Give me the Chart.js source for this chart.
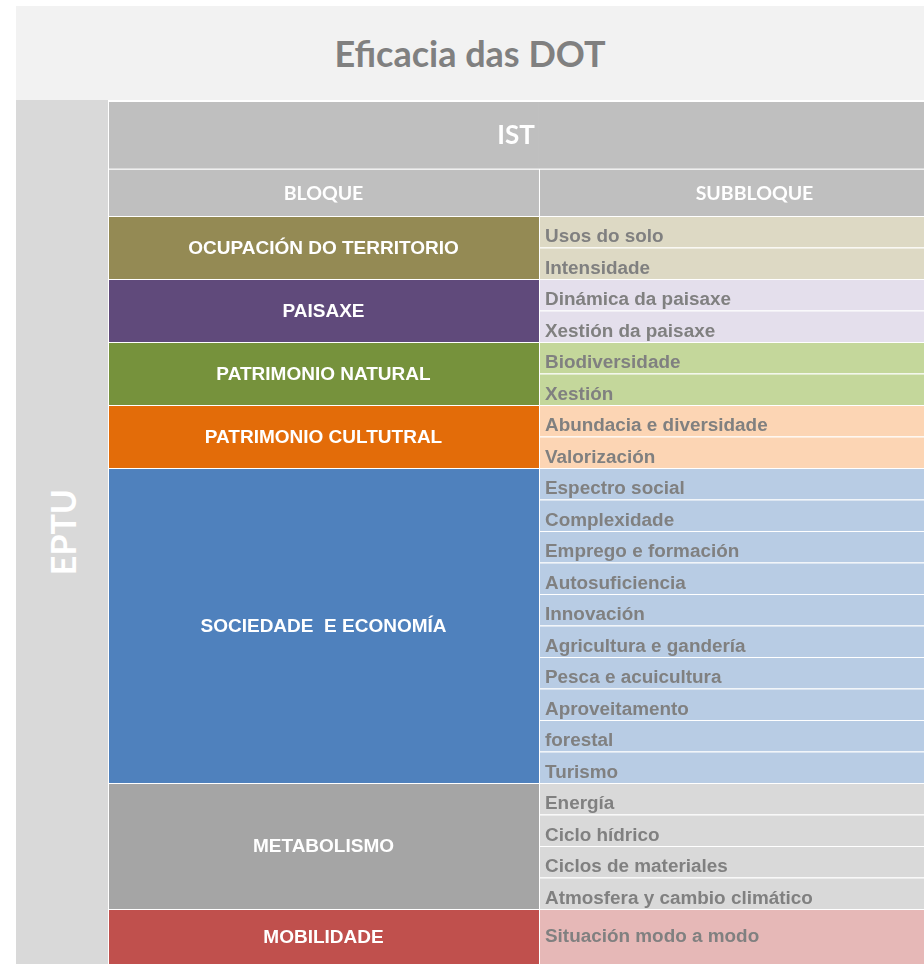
<!DOCTYPE html>
<html>
<head>
<meta charset="utf-8">
<title>Eficacia das DOT</title>
<script src="https://cdn.jsdelivr.net/npm/chart.js@4.4.1/dist/chart.umd.min.js"></script>
<style>
  body { margin: 0; background: #fff; width: 924px; height: 964px; overflow: hidden; position: relative; }
  #title {
    position: absolute; left: 16px; top: 6px; width: 908px; height: 94px;
    background: #f2f2f2; color: #808080; font: bold 36px Lato, sans-serif;
    display: flex; align-items: center; justify-content: center;
  }
  #side { position: absolute; left: 16px; top: 100px; width: 92px; height: 864px; background: #d9d9d9; }
  #side span {
    position: absolute; left: 50%; top: 50%; color: #fff; font: bold 34px Lato, sans-serif;
    transform: translate(-50%, -50%) rotate(-90deg); white-space: nowrap;
  }
  #wrap { position: absolute; left: 108px; top: 101px; width: 816px; height: 863px; }
</style>
</head>
<body>
<div id="title">Eficacia das DOT</div>
<div id="side"><span>EPTU</span></div>
<div id="wrap"><canvas id="taboa" width="816" height="863"></canvas></div>

<script>
// datos da taboa
const cabeceira = 'IST';
const columnas = ['BLOQUE', 'SUBBLOQUE'];
const bloques = [
  'OCUPACIÓN DO TERRITORIO',
  'PAISAXE',
  'PATRIMONIO NATURAL',
  'PATRIMONIO CULTUTRAL',
  'SOCIEDADE  E ECONOMÍA',
  'METABOLISMO',
  'MOBILIDADE'
];
const subbloques = [
  ['Usos do solo', 'Intensidade'],
  ['Dinámica da paisaxe', 'Xestión da paisaxe'],
  ['Biodiversidade', 'Xestión'],
  ['Abundacia e diversidade', 'Valorización'],
  ['Espectro social', 'Complexidade', 'Emprego e formación', 'Autosuficiencia', 'Innovación',
   'Agricultura e gandería', 'Pesca e acuicultura', 'Aproveitamento', 'forestal', 'Turismo'],
  ['Energía', 'Ciclo hídrico', 'Ciclos de materiales', 'Atmosfera y cambio climático'],
  ['Situación modo a modo']
];

// cores
const coresBloque = ['#948a54', '#604a7b', '#76923c', '#e36c09', '#4f81bd', '#a5a5a5', '#c0504d'];
const coresSub = ['#ddd9c4', '#e4dfec', '#c4d79b', '#fcd5b4', '#b8cce4', '#d9d9d9', '#e6b8b7'];
const corCabeceira = '#bfbfbf';

// altura das filas (en filas) e cabeceiras
const altoUltimaFila = 1.75;
const filaIST = [-3.65, -1.5];
const filaColumnas = [-1.5, 0];

// build floating bars from the row counts
const bloqueData = [];
const subData = [];
const subCores = [];
const subEtiquetas = [];
let fila = 0;
bloques.forEach((b, i) => {
  const inicio = fila;
  subbloques[i].forEach((s) => {
    const alto = i === bloques.length - 1 ? altoUltimaFila : 1;
    subData.push({ x: 1, y: [fila, fila + alto] });
    subCores.push(coresSub[i]);
    subEtiquetas.push(s);
    fila += alto;
  });
  bloqueData.push({ x: 0, y: [inicio, fila] });
});

const borde = { top: 1, left: 1, right: 0, bottom: 0 };

// draws the cell texts on top of the bars
const etiquetas = {
  id: 'etiquetas',
  afterDatasetsDraw(chart) {
    const ctx = chart.ctx;
    const area = chart.chartArea;
    chart.data.datasets.forEach((ds, di) => {
      if (!ds.textos) return;
      const meta = chart.getDatasetMeta(di);
      ctx.save();
      ctx.font = ds.fonte;
      ctx.fillStyle = ds.corTexto;
      meta.data.forEach((el, i) => {
        const texto = ds.textos[i];
        if (!texto) return;
        const p = el.getProps(['x', 'y', 'base', 'width'], true);
        const top = Math.min(p.y, p.base);
        const bottom = Math.max(p.y, p.base);
        const mid = (top + bottom) / 2;
        if (ds.abarca) {
          ctx.textAlign = 'center';
          ctx.textBaseline = 'middle';
          ctx.fillText(texto, (area.left + area.right) / 2, mid + 1);
        } else if (ds.aliñar === 'left') {
          const x = p.x - p.width / 2 + 6;
          const y = bottom - top > 40 ? mid + 6 : bottom - 5;
          ctx.textAlign = 'left';
          ctx.textBaseline = 'alphabetic';
          ctx.save();
          ctx.translate(x, y);
          ctx.scale(1.08, 1);
          ctx.fillText(texto, 0, 0);
          ctx.restore();
        } else {
          ctx.textAlign = 'center';
          ctx.textBaseline = 'middle';
          ctx.fillText(texto, p.x, mid + 1);
        }
      });
      ctx.restore();
    });
  }
};

new Chart(document.getElementById('taboa'), {
  type: 'bar',
  data: {
    datasets: [
      {
        data: [{ x: 0, y: filaIST }, { x: 1, y: filaIST }],
        backgroundColor: corCabeceira,
        borderColor: '#ffffff',
        borderWidth: (c) => ({ top: 1, left: c.dataIndex === 0 ? 1 : 0, right: 0, bottom: 0 }),
        textos: [cabeceira],
        abarca: true,
        fonte: 'bold 26px Lato, sans-serif',
        corTexto: '#ffffff'
      },
      {
        data: [{ x: 0, y: filaColumnas }, { x: 1, y: filaColumnas }],
        backgroundColor: corCabeceira,
        borderColor: '#ffffff',
        borderWidth: borde,
        textos: columnas,
        fonte: 'bold 19.5px Lato, sans-serif',
        corTexto: '#ffffff'
      },
      {
        data: bloqueData,
        backgroundColor: coresBloque,
        borderColor: '#ffffff',
        borderWidth: borde,
        textos: bloques,
        fonte: 'bold 19px "Liberation Sans", Arial, sans-serif',
        corTexto: '#ffffff'
      },
      {
        data: subData,
        backgroundColor: subCores,
        borderColor: '#ffffff',
        borderWidth: borde,
        textos: subEtiquetas,
        aliñar: 'left',
        fonte: 'bold 17.5px "Liberation Sans", Arial, sans-serif',
        corTexto: '#808080'
      }
    ]
  },
  options: {
    responsive: false,
    animation: false,
    events: [],
    layout: { padding: 0 },
    datasets: {
      bar: {
        grouped: false,
        barPercentage: 1,
        categoryPercentage: 1,
        borderSkipped: false,
        inflateAmount: 0
      }
    },
    scales: {
      x: {
        type: 'linear',
        display: false,
        offset: false,
        min: -0.5,
        max: 1.3933,
        afterBuildTicks: (axis) => { axis.ticks = [{ value: 0 }, { value: 1 }]; }
      },
      y: {
        type: 'linear',
        display: false,
        offset: false,
        reverse: true,
        min: -3.65,
        max: 23.75
      }
    },
    plugins: {
      legend: { display: false },
      tooltip: { enabled: false }
    }
  },
  plugins: [etiquetas]
});
</script>
</body>
</html>
